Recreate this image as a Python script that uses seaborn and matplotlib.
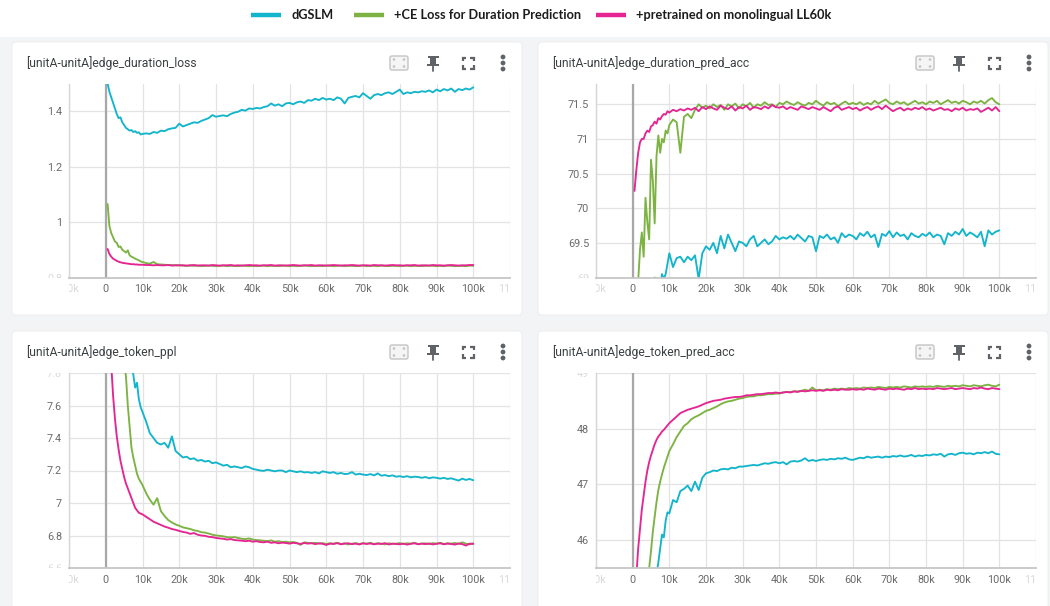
import matplotlib
matplotlib.use("Agg")
import matplotlib.pyplot as plt
from matplotlib.patches import FancyBboxPatch, Rectangle, Circle
from matplotlib.transforms import Bbox, TransformedBbox
import pandas as pd
import seaborn as sns

# ---------------------------------------------------------------- data
RUNS = ["dGSLM", "+CE Loss for Duration Prediction", "+pretrained on monolingual LL60k"]
RUN_COLORS = ["#12b5cb", "#7cb342", "#e52592"]

# logged steps: every 500 up to 10k, then every 1k
STEPS = list(range(500, 10001, 500)) + list(range(11000, 100001, 1000))

# [unitA-unitA]edge_duration_loss
dur_loss_dgslm = [
    1.50, 1.47, 1.45, 1.43, 1.41, 1.39, 1.375, 1.378, 1.36, 1.35,
    1.34, 1.335, 1.33, 1.332, 1.325, 1.328, 1.322, 1.324, 1.316, 1.318,
    1.32, 1.318, 1.325, 1.322, 1.33, 1.328, 1.335, 1.338, 1.34, 1.355,
    1.345, 1.35, 1.355, 1.36, 1.358, 1.365, 1.37, 1.375, 1.386, 1.38,
    1.383, 1.385, 1.382, 1.39, 1.395, 1.398, 1.405, 1.402, 1.41, 1.408,
    1.412, 1.41, 1.415, 1.418, 1.428, 1.42, 1.425, 1.418, 1.428, 1.43,
    1.425, 1.432, 1.435, 1.43, 1.44, 1.438, 1.445, 1.44, 1.448, 1.442,
    1.445, 1.44, 1.45, 1.445, 1.428, 1.448, 1.452, 1.455, 1.45, 1.465,
    1.455, 1.445, 1.458, 1.462, 1.458, 1.465, 1.468, 1.462, 1.47, 1.478,
    1.462, 1.468, 1.465, 1.47, 1.468, 1.472, 1.47, 1.475, 1.468, 1.478,
    1.472, 1.48, 1.475, 1.482, 1.47, 1.48, 1.476, 1.482, 1.478, 1.486,
]
dur_loss_ce = [
    1.065, 0.985, 0.96, 0.945, 0.93, 0.925, 0.91, 0.912, 0.90, 0.895,
    0.89, 0.898, 0.88, 0.875, 0.872, 0.868, 0.865, 0.862, 0.858, 0.856,
    0.852, 0.850, 0.856, 0.848, 0.847, 0.846, 0.845, 0.845, 0.844, 0.844,
    0.843, 0.842, 0.843, 0.842, 0.843, 0.841, 0.842, 0.843, 0.842, 0.841,
    0.842, 0.843, 0.841, 0.842, 0.842, 0.841, 0.843, 0.842, 0.841, 0.842,
    0.841, 0.842, 0.843, 0.841, 0.842, 0.842, 0.841, 0.842, 0.843, 0.841,
    0.842, 0.841, 0.842, 0.843, 0.842, 0.841, 0.842, 0.842, 0.841, 0.843,
    0.842, 0.841, 0.842, 0.843, 0.841, 0.842, 0.842, 0.841, 0.842, 0.843,
    0.841, 0.842, 0.842, 0.841, 0.843, 0.842, 0.841, 0.842, 0.842, 0.841,
    0.842, 0.843, 0.841, 0.842, 0.842, 0.841, 0.842, 0.843, 0.842, 0.841,
    0.842, 0.841, 0.843, 0.842, 0.841, 0.842, 0.842, 0.841, 0.843, 0.842,
]
dur_loss_ll60k = [
    0.903, 0.885, 0.875, 0.868, 0.864, 0.86, 0.857, 0.855, 0.853, 0.852,
    0.851, 0.85, 0.849, 0.848, 0.848, 0.847, 0.847, 0.846, 0.846, 0.846,
    0.845, 0.845, 0.844, 0.845, 0.844, 0.844, 0.845, 0.843, 0.844, 0.844,
    0.844, 0.843, 0.844, 0.845, 0.843, 0.844, 0.844, 0.843, 0.845, 0.844,
    0.843, 0.844, 0.844, 0.845, 0.843, 0.844, 0.843, 0.844, 0.845, 0.844,
    0.844, 0.843, 0.844, 0.844, 0.845, 0.843, 0.844, 0.844, 0.843, 0.844,
    0.845, 0.844, 0.843, 0.844, 0.844, 0.845, 0.843, 0.844, 0.844, 0.843,
    0.844, 0.845, 0.844, 0.843, 0.844, 0.844, 0.845, 0.844, 0.843, 0.844,
    0.844, 0.843, 0.845, 0.844, 0.844, 0.843, 0.844, 0.845, 0.844, 0.844,
    0.843, 0.844, 0.844, 0.845, 0.843, 0.844, 0.844, 0.843, 0.845, 0.844,
    0.844, 0.843, 0.844, 0.845, 0.844, 0.843, 0.844, 0.844, 0.845, 0.845,
]

# [unitA-unitA]edge_duration_pred_acc
dur_acc_dgslm = [
    68.5, 68.6, 68.7, 68.8, 68.75, 68.9, 68.85, 68.95, 68.9, 68.98,
    68.85, 69.0, 68.9, 68.95, 68.85, 69.05, 68.98, 69.05, 69.2, 69.35,
    69.15, 69.28, 69.3, 69.22, 69.3, 69.25, 69.32, 68.98, 69.35, 69.45,
    69.4, 69.5, 69.35, 69.6, 69.42, 69.62, 69.5, 69.38, 69.52, 69.5,
    69.45, 69.55, 69.6, 69.45, 69.5, 69.55, 69.48, 69.52, 69.6, 69.55,
    69.58, 69.56, 69.6, 69.55, 69.62, 69.57, 69.52, 69.6, 69.58, 69.38,
    69.6, 69.57, 69.62, 69.55, 69.58, 69.5, 69.64, 69.58, 69.62, 69.6,
    69.55, 69.64, 69.6, 69.66, 69.58, 69.62, 69.44, 69.63, 69.6, 69.67,
    69.58, 69.65, 69.6, 69.62, 69.55, 69.64, 69.6, 69.58, 69.63, 69.6,
    69.65, 69.58, 69.62, 69.6, 69.48, 69.64, 69.6, 69.66, 69.62, 69.7,
    69.6, 69.65, 69.62, 69.58, 69.66, 69.45, 69.68, 69.62, 69.66, 69.68,
]
dur_acc_ce = [
    68.3, 68.6, 68.95, 69.4, 69.65, 69.3, 70.15, 69.8, 69.55, 70.7,
    70.4, 69.78, 70.75, 71.05, 70.8, 71.0, 70.95, 71.12, 71.08, 71.2,
    71.28, 71.24, 70.8, 71.32, 71.36, 71.3, 71.42, 71.5, 71.45, 71.48,
    71.44, 71.5, 71.46, 71.49, 71.42, 71.5, 71.47, 71.51, 71.44, 71.5,
    71.47, 71.52, 71.45, 71.5, 71.48, 71.53, 71.49, 71.5, 71.46, 71.52,
    71.5, 71.54, 71.51, 71.49, 71.53, 71.5, 71.48, 71.52, 71.5, 71.55,
    71.51, 71.48, 71.53, 71.5, 71.52, 71.47, 71.51, 71.54, 71.5, 71.52,
    71.5, 71.53, 71.49, 71.52, 71.5, 71.55, 71.51, 71.54, 71.57, 71.52,
    71.5, 71.54, 71.51, 71.53, 71.49, 71.52, 71.55, 71.51, 71.53, 71.5,
    71.54, 71.52, 71.55, 71.5, 71.53, 71.56, 71.52, 71.54, 71.51, 71.55,
    71.53, 71.5, 71.54, 71.52, 71.55, 71.51, 71.56, 71.59, 71.53, 71.5,
]
dur_acc_ll60k = [
    70.25, 70.55, 70.8, 70.95, 71.0, 71.0, 71.08, 71.12, 71.1, 71.18,
    71.2, 71.25, 71.22, 71.3, 71.28, 71.33, 71.36, 71.35, 71.4, 71.38,
    71.42, 71.4, 71.43, 71.41, 71.44, 71.42, 71.45, 71.4, 71.46, 71.43,
    71.47, 71.44, 71.42, 71.48, 71.45, 71.43, 71.47, 71.41, 71.46, 71.44,
    71.48, 71.42, 71.46, 71.45, 71.43, 71.47, 71.44, 71.49, 71.46, 71.45,
    71.47, 71.43, 71.46, 71.44, 71.42, 71.47, 71.45, 71.43, 71.46, 71.44,
    71.42, 71.46, 71.43, 71.4, 71.45, 71.47, 71.42, 71.44, 71.46, 71.43,
    71.45, 71.41, 71.44, 71.46, 71.42, 71.45, 71.47, 71.43, 71.48, 71.44,
    71.4, 71.43, 71.45, 71.41, 71.44, 71.42, 71.45, 71.43, 71.46, 71.42,
    71.44, 71.41, 71.43, 71.45, 71.42, 71.43, 71.4, 71.44, 71.42, 71.45,
    71.41, 71.43, 71.42, 71.44, 71.39, 71.42, 71.45, 71.41, 71.46, 71.4,
]

# [unitA-unitA]edge_token_ppl
tok_ppl_dgslm = [
    9.6, 9.2, 8.9, 8.7, 8.55, 8.42, 8.3, 8.2, 8.12, 8.05,
    7.99, 7.94, 7.9, 7.86, 7.79, 7.71, 7.74, 7.64, 7.59, 7.56,
    7.5, 7.43, 7.4, 7.37, 7.36, 7.37, 7.34, 7.41, 7.32, 7.3,
    7.28, 7.285, 7.27, 7.275, 7.26, 7.265, 7.255, 7.26, 7.245, 7.25,
    7.24, 7.23, 7.235, 7.22, 7.225, 7.22, 7.215, 7.225, 7.22, 7.21,
    7.205, 7.2, 7.198, 7.205, 7.2, 7.195, 7.2, 7.2, 7.19, 7.2,
    7.195, 7.19, 7.195, 7.188, 7.19, 7.185, 7.19, 7.182, 7.195, 7.19,
    7.185, 7.19, 7.18, 7.185, 7.178, 7.18, 7.19, 7.175, 7.18, 7.175,
    7.172, 7.178, 7.17, 7.182, 7.168, 7.172, 7.165, 7.17, 7.162, 7.165,
    7.16, 7.165, 7.158, 7.162, 7.16, 7.155, 7.16, 7.152, 7.158, 7.155,
    7.15, 7.155, 7.148, 7.152, 7.145, 7.138, 7.15, 7.142, 7.148, 7.14,
]
tok_ppl_ce = [
    9.6, 9.2, 8.85, 8.6, 8.4, 8.25, 8.12, 8.02, 7.93, 7.86,
    7.78, 7.6, 7.47, 7.34, 7.28, 7.23, 7.18, 7.15, 7.13, 7.11,
    7.06, 7.02, 6.99, 7.03, 6.95, 6.92, 6.895, 6.88, 6.868, 6.86,
    6.85, 6.845, 6.84, 6.832, 6.828, 6.82, 6.818, 6.812, 6.805, 6.80,
    6.798, 6.795, 6.79, 6.788, 6.79, 6.785, 6.78, 6.778, 6.782, 6.775,
    6.772, 6.77, 6.768, 6.765, 6.77, 6.762, 6.765, 6.76, 6.762, 6.758,
    6.76, 6.755, 6.742, 6.758, 6.755, 6.752, 6.755, 6.75, 6.753, 6.748,
    6.752, 6.75, 6.755, 6.748, 6.752, 6.745, 6.75, 6.753, 6.748, 6.752,
    6.75, 6.755, 6.748, 6.752, 6.75, 6.745, 6.752, 6.748, 6.75, 6.753,
    6.748, 6.752, 6.75, 6.755, 6.748, 6.75, 6.752, 6.747, 6.753, 6.75,
    6.755, 6.748, 6.752, 6.75, 6.754, 6.748, 6.758, 6.75, 6.745, 6.752,
]
tok_ppl_ll60k = [
    8.9, 8.2, 7.85, 7.66, 7.52, 7.41, 7.33, 7.26, 7.21, 7.16,
    7.12, 7.09, 7.06, 7.03, 7.0, 6.97, 6.955, 6.94, 6.935, 6.93,
    6.915, 6.90, 6.885, 6.875, 6.865, 6.855, 6.848, 6.84, 6.835, 6.828,
    6.822, 6.818, 6.81, 6.815, 6.805, 6.80, 6.798, 6.792, 6.79, 6.785,
    6.782, 6.78, 6.775, 6.778, 6.772, 6.77, 6.768, 6.765, 6.768, 6.762,
    6.765, 6.76, 6.758, 6.762, 6.755, 6.758, 6.752, 6.756, 6.754, 6.75,
    6.755, 6.752, 6.748, 6.754, 6.75, 6.753, 6.747, 6.752, 6.749, 6.742,
    6.75, 6.748, 6.753, 6.746, 6.75, 6.752, 6.747, 6.75, 6.745, 6.752,
    6.748, 6.751, 6.746, 6.75, 6.748, 6.753, 6.745, 6.75, 6.748, 6.746,
    6.75, 6.744, 6.749, 6.752, 6.746, 6.75, 6.747, 6.751, 6.745, 6.749,
    6.752, 6.746, 6.75, 6.748, 6.744, 6.751, 6.747, 6.738, 6.75, 6.748,
]

# [unitA-unitA]edge_token_pred_acc
tok_acc_dgslm = [
    41.0, 41.8, 42.4, 42.9, 43.3, 43.7, 44.0, 44.3, 44.6, 44.85,
    45.1, 45.3, 45.38, 45.6, 45.85, 46.1, 46.05, 46.35, 46.5, 46.48,
    46.72, 46.68, 46.88, 46.92, 46.98, 46.88, 47.05, 46.9, 47.12, 47.2,
    47.22, 47.25, 47.24, 47.27, 47.28, 47.27, 47.3, 47.29, 47.32, 47.32,
    47.33, 47.34, 47.35, 47.34, 47.36, 47.38, 47.37, 47.39, 47.4, 47.38,
    47.4, 47.36, 47.41, 47.42, 47.41, 47.43, 47.47, 47.42, 47.44, 47.42,
    47.44, 47.45, 47.44, 47.46, 47.45, 47.47, 47.46, 47.48, 47.45, 47.44,
    47.46, 47.48, 47.47, 47.5, 47.48, 47.49, 47.5, 47.48, 47.5, 47.49,
    47.51, 47.5, 47.52, 47.5, 47.51, 47.53, 47.5, 47.52, 47.51, 47.53,
    47.52, 47.54, 47.53, 47.55, 47.5, 47.54, 47.55, 47.53, 47.56, 47.57,
    47.55, 47.56, 47.54, 47.57, 47.56, 47.58, 47.56, 47.59, 47.55, 47.54,
]
tok_acc_ce = [
    42.0, 42.8, 43.4, 43.9, 44.35, 44.7, 45.0, 45.3, 45.5, 45.8,
    46.15, 46.42, 46.68, 46.9, 47.05, 47.18, 47.3, 47.4, 47.5, 47.6,
    47.72, 47.85, 47.95, 48.05, 48.10, 48.17, 48.21, 48.24, 48.28, 48.32,
    48.34, 48.37, 48.40, 48.44, 48.47, 48.49, 48.50, 48.52, 48.54, 48.55,
    48.57, 48.58, 48.58, 48.60, 48.60, 48.61, 48.62, 48.62, 48.63, 48.63,
    48.65, 48.66, 48.66, 48.67, 48.67, 48.68, 48.70, 48.68, 48.74, 48.69,
    48.70, 48.69, 48.71, 48.70, 48.72, 48.71, 48.72, 48.71, 48.73, 48.72,
    48.73, 48.72, 48.74, 48.73, 48.74, 48.73, 48.75, 48.74, 48.73, 48.75,
    48.74, 48.75, 48.74, 48.76, 48.75, 48.74, 48.76, 48.75, 48.76, 48.75,
    48.76, 48.75, 48.77, 48.76, 48.75, 48.77, 48.76, 48.77, 48.76, 48.78,
    48.77, 48.76, 48.78, 48.77, 48.76, 48.78, 48.79, 48.77, 48.76, 48.79,
]
tok_acc_ll60k = [
    44.5, 45.35, 45.85, 46.2, 46.55, 46.8, 47.05, 47.25, 47.4, 47.52,
    47.62, 47.72, 47.8, 47.86, 47.9, 47.95, 47.98, 48.02, 48.06, 48.1,
    48.16, 48.22, 48.28, 48.31, 48.34, 48.36, 48.38, 48.40, 48.43, 48.46,
    48.48, 48.50, 48.51, 48.52, 48.54, 48.55, 48.56, 48.57, 48.57, 48.58,
    48.60, 48.60, 48.61, 48.62, 48.62, 48.63, 48.64, 48.64, 48.65, 48.64,
    48.65, 48.66, 48.65, 48.67, 48.66, 48.68, 48.67, 48.68, 48.69, 48.68,
    48.69, 48.68, 48.70, 48.69, 48.70, 48.69, 48.71, 48.70, 48.70, 48.71,
    48.70, 48.71, 48.70, 48.72, 48.71, 48.70, 48.72, 48.71, 48.70, 48.72,
    48.71, 48.72, 48.71, 48.70, 48.72, 48.71, 48.73, 48.71, 48.72, 48.71,
    48.72, 48.71, 48.73, 48.72, 48.71, 48.72, 48.73, 48.71, 48.72, 48.73,
    48.72, 48.71, 48.73, 48.72, 48.74, 48.72, 48.71, 48.73, 48.72, 48.71,
]

TITLES = [
    "[unitA-unitA]edge_duration_loss",
    "[unitA-unitA]edge_duration_pred_acc",
    "[unitA-unitA]edge_token_ppl",
    "[unitA-unitA]edge_token_pred_acc",
]
SERIES = [
    [dur_loss_dgslm, dur_loss_ce, dur_loss_ll60k],
    [dur_acc_dgslm, dur_acc_ce, dur_acc_ll60k],
    [tok_ppl_dgslm, tok_ppl_ce, tok_ppl_ll60k],
    [tok_acc_dgslm, tok_acc_ce, tok_acc_ll60k],
]
Y_LIMITS = [(0.8, 1.5), (69.0, 71.8), (6.6, 7.8), (45.5, 49.0)]
Y_TICKS = [
    [0.8, 1.0, 1.2, 1.4],
    [69.0, 69.5, 70.0, 70.5, 71.0, 71.5],
    [6.6, 6.8, 7.0, 7.2, 7.4, 7.6, 7.8],
    [46, 47, 48, 49],
]
X_TICKS = list(range(-10000, 110001, 10000))

# ---------------------------------------------------------------- style
sns.set_theme(style="white")
plt.rcParams["font.family"] = ["Roboto", "DejaVu Sans"]

W, H = 1050, 606
fig = plt.figure(figsize=(W / 100, H / 100), dpi=100)

# page background, cards, header (pixel coordinates, y downwards)
bg = fig.add_axes([0, 0, 1, 1], zorder=0)
bg.set_xlim(0, W)
bg.set_ylim(H, 0)
bg.axis("off")
bg.add_patch(Rectangle((0, 37), W, H - 37, facecolor="#f3f4f6", edgecolor="none"))

CARDS = [(12, 42), (538, 42), (12, 331), (538, 331)]
CARD_W, CARD_H = 510, 273
for cx, cy in CARDS:
    bg.add_patch(FancyBboxPatch((cx, cy), CARD_W, CARD_H if cy < 300 else 300,
                                boxstyle="round,pad=0,rounding_size=4",
                                facecolor="white", edgecolor="#ececec", lw=0.6))

# legend strip
LEGEND_X = [251, 354, 596]
for x0, name, col in zip(LEGEND_X, RUNS, RUN_COLORS):
    bg.plot([x0, x0 + 30], [15, 15], color=col, lw=3.2, solid_capstyle="butt")
    bg.text(x0 + 40, 15, name, ha="left", va="center", fontsize=9.2,
            fontweight="bold", family=["Lato", "DejaVu Sans"], color="#1c1c1c")


def draw_icons(cx, cy):
    """Toolbar glyphs in the card header: fit-domain, pin, fullscreen, menu."""
    ic = "#5f6368"
    bx = cx + 387
    bg.add_patch(FancyBboxPatch((bx - 9, cy + 14), 18, 14,
                                boxstyle="round,pad=0,rounding_size=2",
                                facecolor="#f5f5f5", edgecolor="#c4c4c4", lw=1.0))
    for dx, dy in [(-5, -3.5), (5, -3.5), (-5, 3.5), (5, 3.5)]:
        bg.add_patch(Circle((bx + dx, cy + 21 + dy), 0.6, color="#c4c4c4"))
    px = cx + 421
    bg.add_patch(Rectangle((px - 3, cy + 15), 6, 8, facecolor=ic, edgecolor="none"))
    bg.add_patch(Rectangle((px - 5.5, cy + 14), 11, 2, facecolor=ic, edgecolor="none"))
    bg.add_patch(Rectangle((px - 6, cy + 22), 12, 2.2, facecolor=ic, edgecolor="none"))
    bg.plot([px, px], [cy + 24, cy + 29], color=ic, lw=1.3)
    fx, fy, s, t = cx + 456, cy + 21, 5.5, 3.2
    for sx in (-1, 1):
        for sy in (-1, 1):
            bg.plot([fx + sx * s, fx + sx * s, fx + sx * (s - t)],
                    [fy + sy * (s - t), fy + sy * s, fy + sy * s],
                    color=ic, lw=1.6, solid_capstyle="butt", solid_joinstyle="miter")
    mx = cx + 491
    for dy in (-6, 0, 6):
        bg.add_patch(Circle((mx, cy + 21 + dy), 1.7, color=ic))


for cx, cy in CARDS:
    draw_icons(cx, cy)

# ---------------------------------------------------------------- panels
AX_BOXES = [(69, 83.5, 510, 277.5), (596, 83.5, 1036, 277.5),
            (69, 373, 510, 568), (596, 373, 1036, 568)]
FAINT = "#dadada"
TICK_COL = "#6b6b6b"


def k_label(v):
    return "0" if v == 0 else f"{v // 1000}k"


for i, (box, title) in enumerate(zip(AX_BOXES, TITLES)):
    x0, y0, x1, y1 = box
    ax = fig.add_axes([x0 / W, 1 - y1 / H, (x1 - x0) / W, (y1 - y0) / H], zorder=2)
    ax.set_facecolor("none")

    frames = [pd.DataFrame({"step": STEPS, "value": vals, "run": run})
              for vals, run in zip(SERIES[i], RUNS)]
    df = pd.concat(frames, ignore_index=True)
    sns.lineplot(data=df, x="step", y="value", hue="run", hue_order=RUNS,
                 palette=RUN_COLORS, linewidth=1.35, legend=False,
                 estimator=None, errorbar=None, ax=ax)
    ax.axvline(0, color="#a8a8a8", lw=1.6, zorder=1.5)

    lo, hi = Y_LIMITS[i]
    ax.set_xlim(-10000, 110000)
    ax.set_ylim(lo, hi)
    ax.set_xticks(X_TICKS)
    ax.set_xticklabels([k_label(v) for v in X_TICKS])
    ax.set_yticks(Y_TICKS[i])
    ax.set_yticklabels([f"{v:g}" for v in Y_TICKS[i]])
    ax.set_xlabel("")
    ax.set_ylabel("")
    ax.grid(True, color="#e3e3e3", lw=0.9, zorder=0)
    ax.set_axisbelow(True)
    ax.tick_params(length=0, labelsize=7.8, labelcolor=TICK_COL, pad=5)
    for side in ("top", "right"):
        ax.spines[side].set_visible(False)
    ax.spines["left"].set_color("#d6d6d6")
    ax.spines["left"].set_linewidth(1.0)
    ax.spines["bottom"].set_color("#c6c6c6")
    ax.spines["bottom"].set_linewidth(1.3)

    # labels sitting on the plot edges are faded and cut by the plot area
    xclip = TransformedBbox(Bbox([[x0 / W, 0], [x1 / W, 1 - y1 / H]]), fig.transFigure)
    yclip = TransformedBbox(Bbox([[0, 1 - y1 / H], [x0 / W, 1 - y0 / H]]), fig.transFigure)
    for lab, v in zip(ax.get_xticklabels(), X_TICKS):
        if v in (-10000, 110000):
            lab.set_color(FAINT)
        lab.set_clip_box(xclip)
        lab.set_clip_on(True)
    for lab, v in zip(ax.get_yticklabels(), Y_TICKS[i]):
        if abs(v - lo) < 1e-9 or abs(v - hi) < 1e-9:
            lab.set_color(FAINT)
        lab.set_clip_box(yclip)
        lab.set_clip_on(True)

    cx, cy = CARDS[i]
    bg.text(cx + 14, cy + 21, title, ha="left", va="center", fontsize=8.7,
            color="#3c4043", family=["Roboto", "DejaVu Sans"])

fig.savefig("out.png", dpi=100)
